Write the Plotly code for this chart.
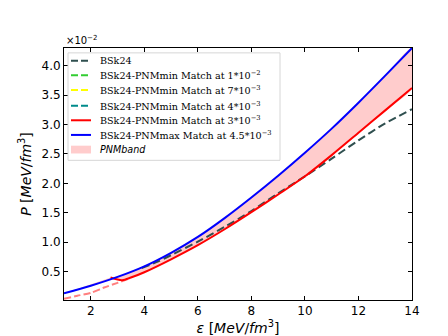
import plotly.graph_objects as go

# Values in units of 1e-2 MeV/fm^3
max_eps = [1.0, 2.0, 3.0, 4.0, 5.0, 6.0, 7.0, 8.0, 9.0, 10.0, 11.0, 12.0, 13.0, 14.0]
max_p   = [0.13, 0.26, 0.41, 0.59, 0.82, 1.09, 1.41, 1.76, 2.13, 2.52, 2.93, 3.37, 3.83, 4.30]

min_eps = [2.74, 3.17, 3.5, 4.0, 5.0, 6.0, 7.0, 8.0, 9.0, 10.0, 11.0, 12.0, 13.0, 14.0]
min_p   = [0.40, 0.355, 0.40, 0.49, 0.71, 0.95, 1.22, 1.51, 1.81, 2.12, 2.48, 2.86, 3.24, 3.62]

low_eps = [1.0, 1.5, 2.0, 2.5, 3.0, 3.43]
low_p   = [0.04, 0.09, 0.14, 0.23, 0.31, 0.38]

bsk_eps = [3.9, 4.5, 5.0, 6.0, 7.0, 8.0, 9.0, 10.0, 11.0, 12.0, 13.0, 14.0]
bsk_p   = [0.56, 0.67, 0.78, 1.01, 1.26, 1.53, 1.83, 2.12, 2.42, 2.73, 3.02, 3.26]

labels = ["BSk24",
          "BSk24-PNMmin Match at 1*10<sup>−2</sup>",
          "BSk24-PNMmin Match at 7*10<sup>−3</sup>",
          "BSk24-PNMmin Match at 4*10<sup>−3</sup>",
          "BSk24-PNMmin Match at 3*10<sup>−3</sup>",
          "BSk24-PNMmax Match at 4.5*10<sup>−3</sup>",
          "<i>PNMband</i>"]
legend_colors = ["#2f4f4f", "limegreen", "yellow", "darkcyan", "red", "blue", "rgba(255,0,0,0.2)"]
legend_dash = ["7px,3px", "7px,3px", "7px,3px", "7px,3px", "solid", "solid", None]

fig = go.Figure()
sm = dict(shape="spline", smoothing=0.8)

fig.add_trace(go.Scatter(x=max_eps + min_eps[::-1], y=max_p + min_p[::-1],
                         fill="toself", fillcolor="rgba(255,0,0,0.2)",
                         line=dict(width=0, **sm), mode="lines", hoverinfo="skip"))
fig.add_trace(go.Scatter(x=low_eps, y=low_p, mode="lines",
                         line=dict(color="rgba(255,0,0,0.5)", width=2, dash="7px,3px", **sm)))
fig.add_trace(go.Scatter(x=bsk_eps, y=bsk_p, mode="lines", name=labels[0],
                         line=dict(color="#2f4f4f", width=2, dash="8px,4px", **sm)))
fig.add_trace(go.Scatter(x=min_eps, y=min_p, mode="lines", name=labels[4],
                         line=dict(color="red", width=2, **sm)))
fig.add_trace(go.Scatter(x=max_eps, y=max_p, mode="lines", name=labels[5],
                         line=dict(color="blue", width=2, **sm)))

# manual legend (pixel -> paper conversion)
L, R, T, B = 56, 404, 40, 298
def px(x): return (x - L) / (R - L)
def py(y): return (B - y) / (B - T)

shapes = [dict(type="rect", xref="paper", yref="paper", x0=px(60), x1=px(272), y0=py(45), y1=py(155),
               fillcolor="white", line=dict(color="#d6d6d6", width=1), layer="above")]
annotations = []
rows = [53, 68, 83, 99, 114, 129, 144]
for lab, col, dash, ry in zip(labels, legend_colors, legend_dash, rows):
    if dash is None:
        shapes.append(dict(type="rect", xref="paper", yref="paper", x0=px(63), x1=px(83),
                           y0=py(ry + 4), y1=py(ry - 4), fillcolor=col, line=dict(width=0),
                           layer="above"))
    else:
        shapes.append(dict(type="line", xref="paper", yref="paper", x0=px(63), x1=px(83),
                           y0=py(ry), y1=py(ry), line=dict(color=col, width=2, dash=dash),
                           layer="above"))
    fam = "DejaVu Sans" if dash is None else "DejaVu Serif"
    annotations.append(dict(text=lab, xref="paper", yref="paper", x=px(90), y=py(ry),
                            xanchor="left", yanchor="middle", showarrow=False,
                            font=dict(family=fam, size=9.6, color="black")))
annotations.append(dict(text="×10<sup>−2</sup>", xref="paper", yref="paper", x=0, y=1,
                        xanchor="left", yanchor="bottom", showarrow=False,
                        font=dict(family="DejaVu Sans", size=10, color="black")))

axis_common = dict(showline=True, linecolor="black", linewidth=1, mirror="ticks",
                   ticks="inside", ticklen=4, tickcolor="black", showgrid=False,
                   zeroline=False, tickfont=dict(family="DejaVu Sans", size=12, color="black"))

fig.update_layout(
    width=448, height=336,
    margin=dict(l=L, r=448 - R, t=T, b=336 - B),
    paper_bgcolor="white", plot_bgcolor="white",
    showlegend=False,
    xaxis=dict(range=[1, 14], tickvals=[2, 4, 6, 8, 10, 12, 14],
               title=dict(text="<i>ε</i> [<i>MeV</i>/<i>fm</i><sup>3</sup>]",
                          font=dict(family="DejaVu Sans", size=14, color="black"), standoff=4),
               **axis_common),
    yaxis=dict(range=[0.018, 4.30], tickvals=[0.5, 1.0, 1.5, 2.0, 2.5, 3.0, 3.5, 4.0],
               tickformat=".1f",
               title=dict(text="<i>P</i> [<i>MeV</i>/<i>fm</i><sup>3</sup>]",
                          font=dict(family="DejaVu Sans", size=14, color="black"), standoff=6),
               **axis_common),
    shapes=shapes,
    annotations=annotations,
)

fig.write_html("out.html")
